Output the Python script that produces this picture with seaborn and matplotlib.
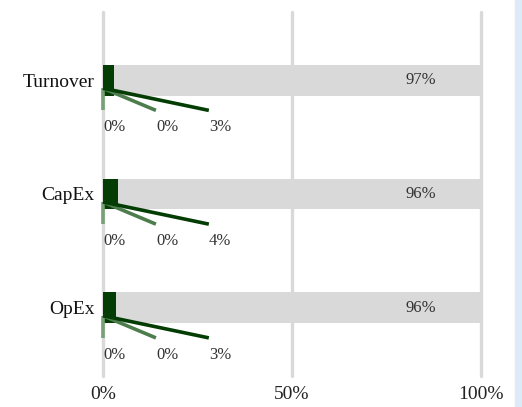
import matplotlib
matplotlib.use("Agg")
import matplotlib.pyplot as plt
import seaborn as sns
import pandas as pd
from matplotlib.patches import Rectangle

# data (percent shares, labels show whole percents)
categories = ["Turnover", "CapEx", "OpEx"]
light_green = [0.0, 0.0, 0.0]
mid_green = [0.0, 0.0, 0.0]
dark_green = [3.0, 4.0, 3.4]
grey = [97.0, 96.0, 96.6]
tick_labels = ["0%", "50%", "100%"]

C_LIGHT = "#77a077"
C_MID = "#4d7d4d"
C_DARK = "#033d03"
C_GREY = "#d9d9d9"

sns.set_theme(style="white")
plt.rcParams["font.family"] = ["Liberation Serif", "DejaVu Serif"]

df = pd.DataFrame({
    "category": categories,
    "light": light_green,
    "mid": mid_green,
    "dark": dark_green,
    "grey": grey,
})
# cumulative ends for stacking
df["c_light"] = df["light"]
df["c_mid"] = df["c_light"] + df["mid"]
df["c_dark"] = df["c_mid"] + df["dark"]
df["c_grey"] = df["c_dark"] + df["grey"]

fig = plt.figure(figsize=(5.22, 4.07), dpi=100)
ax = fig.add_axes([103 / 522, 31 / 407, 378 / 522, 364 / 407])

# gridlines under bars
for gx in [0, 50, 100]:
    ax.axvline(gx, color=C_GREY, lw=2.4, zorder=0, clip_on=False)

bar_h = 0.27
for col, color in [("c_grey", C_GREY), ("c_dark", C_DARK),
                   ("c_mid", C_MID), ("c_light", C_LIGHT)]:
    sns.barplot(data=df, x=col, y="category", color=color, width=bar_h,
                orient="h", saturation=1, linewidth=0, ax=ax, zorder=2)

# leader lines + small segment labels
label_x = [0, 14, 28]
seg_cols = ["light", "mid", "dark"]
seg_colors = [C_LIGHT, C_MID, C_DARK]
for i, row in df.iterrows():
    for lx, col, c in zip(label_x, seg_cols, seg_colors):
        ax.plot([0, lx], [i + 0.07, i + 0.265], color=c, lw=2.6,
                solid_capstyle="butt", zorder=3, clip_on=False)
        ax.text(lx, i + 0.415, f"{int(row[col])}%", ha="left", va="center",
                fontsize=12, color="#333333", zorder=4)
    ax.text(84, i, f"{int(row['grey'])}%", ha="center", va="center",
            fontsize=12, color="#333333", zorder=4)

ax.set_xlim(0, 100)
ax.set_ylim(2.6, -0.6)
ax.set_xticks([0, 50, 100])
ax.set_xticklabels(tick_labels)
ax.set_xlabel("")
ax.set_ylabel("")
ax.tick_params(axis="x", length=0, pad=7.5, labelsize=14, labelcolor="#222222")
ax.tick_params(axis="y", length=0, pad=6, labelsize=14, labelcolor="#111111")
for s in ax.spines.values():
    s.set_visible(False)
ax.grid(False)

# light blue strip at right edge
fig.patches.append(Rectangle((515 / 522, 0), 7 / 522, 1, transform=fig.transFigure,
                             color="#deeaf6", zorder=0))

fig.savefig("out.png", dpi=100)
